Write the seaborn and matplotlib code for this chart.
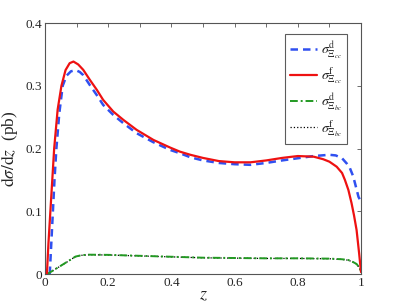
import numpy as np
import pandas as pd
import seaborn as sns
import matplotlib
matplotlib.use("Agg")
import matplotlib.pyplot as plt
from matplotlib.ticker import MultipleLocator

# values
z_cc_f = [0.006, 0.011, 0.017, 0.023, 0.029, 0.04, 0.052, 0.065, 0.078, 0.09, 0.105, 0.121,
          0.142, 0.164, 0.184, 0.216, 0.248, 0.29, 0.343, 0.396, 0.427, 0.46, 0.5, 0.55, 0.6,
          0.65, 0.7, 0.75, 0.8, 0.85, 0.88, 0.9, 0.923, 0.94, 0.949, 0.96, 0.97, 0.978, 0.986,
          0.994, 1.0]
sig_cc_f = [0.0, 0.05, 0.1, 0.15, 0.2, 0.262, 0.3, 0.325, 0.336, 0.3386, 0.334, 0.3254,
            0.3094, 0.2935, 0.2775, 0.2589, 0.2456, 0.2297, 0.2137, 0.2015, 0.195, 0.19, 0.185,
            0.18, 0.178, 0.178, 0.181, 0.185, 0.188, 0.187, 0.183, 0.179, 0.171, 0.161, 0.15,
            0.134, 0.113, 0.093, 0.07, 0.033, 0.003]

z_cc_d = [0.015, 0.02, 0.025, 0.03, 0.036, 0.045, 0.056, 0.068, 0.082, 0.097, 0.11, 0.121,
          0.142, 0.164, 0.184, 0.216, 0.248, 0.29, 0.343, 0.396, 0.427, 0.46, 0.5, 0.55, 0.6,
          0.65, 0.7, 0.75, 0.8, 0.85, 0.9, 0.92, 0.94, 0.955, 0.965, 0.975, 0.981, 0.992, 1.0]
sig_cc_d = [0.0, 0.05, 0.1, 0.15, 0.2, 0.255, 0.3, 0.316, 0.323, 0.325, 0.322, 0.317,
            0.301, 0.285, 0.2695, 0.2536, 0.2403, 0.2244, 0.21, 0.1977, 0.1925, 0.186, 0.181,
            0.177, 0.175, 0.174, 0.177, 0.181, 0.1845, 0.188, 0.19, 0.189, 0.1845, 0.176,
            0.1685, 0.156, 0.1446, 0.123, 0.115]

z_bc = [0.005, 0.014, 0.03, 0.054, 0.075, 0.096, 0.115, 0.138, 0.2, 0.3, 0.4, 0.5, 0.6,
        0.7, 0.8, 0.9, 0.94, 0.96, 0.975, 0.986, 0.995, 1.0]
sig_bc_d = [0.0, 0.002, 0.007, 0.0144, 0.021, 0.0277, 0.030, 0.0308, 0.0305, 0.029, 0.0275,
            0.026, 0.0255, 0.025, 0.025, 0.0245, 0.0235, 0.0223, 0.019, 0.016, 0.01, 0.004]
sig_bc_f = [0.0, 0.002, 0.007, 0.0142, 0.0208, 0.0275, 0.0298, 0.0306, 0.0303, 0.0288, 0.0273,
            0.0258, 0.0253, 0.0248, 0.0248, 0.0243, 0.0232, 0.022, 0.0188, 0.0158, 0.0098, 0.004]

labels = [r"$\sigma^{\rm d}_{\Xi_{cc}}$", r"$\sigma^{\rm f}_{\Xi_{cc}}$",
          r"$\sigma^{\rm d}_{\Xi_{bc}}$", r"$\sigma^{\rm f}_{\Xi_{bc}}$"]

sns.set_style("white")
plt.rcParams['font.family'] = ['Liberation Serif', 'DejaVu Serif']
plt.rcParams['mathtext.fontset'] = 'stix'

fig = plt.figure(figsize=(3.99, 3.03), dpi=100)
ax = fig.add_axes([0.1128, 0.0957, 0.792, 0.8283])

sns.lineplot(x=z_bc, y=sig_bc_f, ax=ax, color='black', linestyle=':', linewidth=0.9,
             label=labels[3], zorder=2)
sns.lineplot(x=z_cc_d, y=sig_cc_d, ax=ax, color='#3050f0', linestyle=(0, (3, 2)), linewidth=1.8,
             label=labels[0], zorder=3)
sns.lineplot(x=z_cc_f, y=sig_cc_f, ax=ax, color='#ee1111', linewidth=1.6,
             label=labels[1], zorder=4)
sns.lineplot(x=z_bc, y=sig_bc_d, ax=ax, color='#229922', linestyle=(0, (4, 1.5, 1, 1.5)),
             linewidth=1.4, label=labels[2], zorder=3)

ax.set_xlim(0, 1)
ax.set_ylim(0, 0.4)
ax.set_xticks([0, 0.2, 0.4, 0.6, 0.8, 1.0])
ax.set_xticklabels(['0', '0.2', '0.4', '0.6', '0.8', '1'])
ax.xaxis.set_minor_locator(MultipleLocator(0.1))
ax.set_yticks([0, 0.1, 0.2, 0.3, 0.4])
ax.set_yticklabels(['0', '0.1', '0.2', '0.3', '0.4'])
ax.tick_params(which='both', direction='in', top=True, right=True, length=3,
               width=0.6, color='#555555', labelsize=9.5, pad=2)
for s in ax.spines.values():
    s.set_color('#555555')
    s.set_linewidth(0.8)

ax.set_xlabel(r"$z$", fontsize=13, labelpad=-2)
ax.set_ylabel(r"$\mathrm{d}\sigma/\mathrm{d}z$  (pb)", fontsize=12.5, labelpad=4)

h, l = ax.get_legend_handles_labels()
order = [1, 2, 3, 0]
leg = ax.legend([h[i] for i in order], [l[i] for i in order], loc='upper right',
                bbox_to_anchor=(0.956, 0.956), fontsize=10, frameon=True, fancybox=False,
                edgecolor='#333333', handlelength=1.9, handletextpad=0.3,
                labelspacing=0.35, borderpad=0.35, borderaxespad=0)
leg.get_frame().set_linewidth(0.8)

fig.savefig("out.png", dpi=100)
